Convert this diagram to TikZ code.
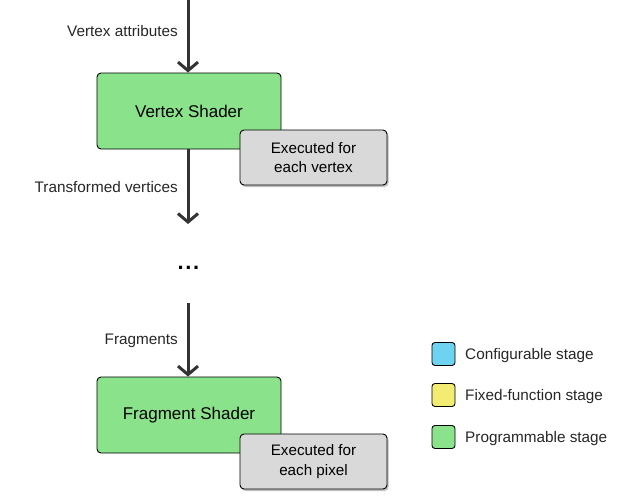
\documentclass[tikz,border=0pt]{standalone}
\usepackage{fontspec}
\setmainfont{Liberation Sans}
\usetikzlibrary{arrows.meta,shadows}
\definecolor{progGreen}{HTML}{8AE28B}
\definecolor{noteGray}{HTML}{D9D9D9}
\definecolor{cfgBlue}{HTML}{6DD3F0}
\definecolor{fixYellow}{HTML}{F2EC72}
\definecolor{lineDark}{HTML}{333333}
\tikzset{
  stagebox/.style={draw=black, line width=0.9pt, rounded corners=4pt, fill=progGreen,
    minimum width=184pt, minimum height=76pt, inner sep=0pt,
    font=\fontsize{17}{19}\selectfont},
  notebox/.style={draw=black, line width=0.9pt, rounded corners=4pt, fill=noteGray,
    minimum width=147pt, minimum height=55pt, inner sep=0pt, align=center,
    font=\fontsize{15.2}{19.5}\selectfont,
    drop shadow={shadow xshift=1.5pt, shadow yshift=-2pt, opacity=0.25, fill=black}},
  flow/.style={draw=lineDark, line width=3pt,
    -{Straight Barb[length=8.5pt,width=20pt,line width=3pt]}},
  lbl/.style={anchor=east, inner sep=0pt, font=\fontsize{15.3}{17}\selectfont, text=black!85},
  legsq/.style={draw=black, line width=0.9pt, rounded corners=3pt,
    minimum width=23pt, minimum height=23pt, inner sep=0pt},
  legtxt/.style={anchor=west, inner sep=0pt, font=\fontsize{15.3}{17}\selectfont, text=black!85}
}
\begin{document}
\begin{tikzpicture}[x=1pt,y=-1pt]
\useasboundingbox (0,0) rectangle (640,498);
% stages
\node[stagebox] (vs) at (189,111) {Vertex Shader};
\node[notebox] (vn) at (313.5,157.5) {Executed for\\each vertex};
\node[stagebox] (fs) at (189,415) {Fragment Shader};
\node[notebox] (fn) at (313.5,461.5) {Executed for\\each pixel};
% dots
\node[inner sep=0pt, font=\fontsize{22}{24}\selectfont\bfseries] (dots) at (188.5,268) {.\kern1.6pt.\kern1.6pt.};
% connectors
\coordinate (top) at (188,-2);
\coordinate (mid) at (188,224);
\coordinate (mid2) at (188,303);
\draw[flow] (top) -- (vs.north -| top);
\draw[flow] (vs.south -| top) -- (mid);
\draw[flow] (mid2) -- (fs.north -| top);
% labels
\node[lbl] (l1) at (178,31.5) {Vertex attributes};
\node[lbl] (l2) at (178,187.5) {Transformed vertices};
\node[lbl] (l3) at (178,340.5) {Fragments};
% legend
\node[legsq, fill=cfgBlue] (s1) at (443.5,354) {};
\node[legsq, fill=fixYellow] (s2) at (443.5,395) {};
\node[legsq, fill=progGreen] (s3) at (443.5,437) {};
\node[legtxt] (t1) at (465,355.5) {Configurable stage};
\node[legtxt] (t2) at (465,396.5) {Fixed-function stage};
\node[legtxt] (t3) at (465,438.5) {Programmable stage};
\end{tikzpicture}
\end{document}
